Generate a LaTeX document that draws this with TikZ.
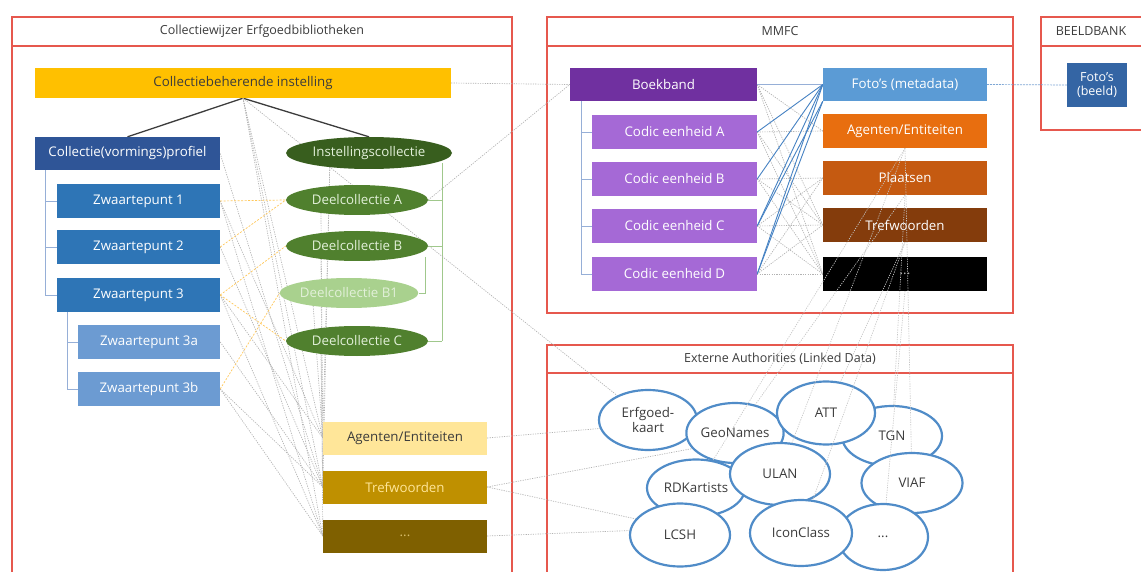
\documentclass[tikz,border=0pt]{standalone}
\usepackage{fontspec}
\setmainfont{Open Sans}
\usetikzlibrary{shapes.geometric}
\definecolor{panelred}{RGB}{230,88,78}
\definecolor{titlegray}{RGB}{60,60,60}
\definecolor{amber}{RGB}{255,192,0}
\definecolor{profblue}{RGB}{47,85,151}
\definecolor{zpblue}{RGB}{46,117,182}
\definecolor{zplight}{RGB}{108,155,210}
\definecolor{instgreen}{RGB}{56,94,30}
\definecolor{deelgreen}{RGB}{80,128,46}
\definecolor{lightgreen}{RGB}{169,209,142}
\definecolor{greentext}{RGB}{226,240,217}
\definecolor{agyel}{RGB}{255,230,153}
\definecolor{trgold}{RGB}{191,144,0}
\definecolor{dotbrown}{RGB}{127,96,0}
\definecolor{boekpurple}{RGB}{112,48,160}
\definecolor{codicpurple}{RGB}{165,105,214}
\definecolor{fotoblue}{RGB}{91,155,213}
\definecolor{agorange}{RGB}{232,110,15}
\definecolor{plorange}{RGB}{197,90,17}
\definecolor{trbrown}{RGB}{132,60,12}
\definecolor{beeldblue}{RGB}{52,101,164}
\definecolor{authblue}{RGB}{80,140,200}
\definecolor{treeb}{RGB}{150,175,215}
\definecolor{treeg}{RGB}{160,200,140}
\definecolor{yline}{RGB}{255,200,90}
\definecolor{bline}{RGB}{70,130,195}
\newcommand\nodefont{\fontsize{13.3}{15}\selectfont}
\newcommand\titlefont{\fontsize{12.5}{14}\selectfont}
\pgfdeclarelayer{panels}
\pgfdeclarelayer{lines}
\pgfsetlayers{panels,lines,main}
\begin{document}
\begin{tikzpicture}[x=1pt,y=-1pt,
  box/.style={rectangle, inner sep=0pt, font=\nodefont, text=white},
  greenell/.style={ellipse, inner sep=0pt, font=\nodefont, text=greentext, minimum height=30pt},
  auth/.style={ellipse, draw=authblue, line width=2.2pt, fill=white, inner sep=0pt, font=\nodefont, text=titlegray, align=center},
  gline/.style={draw=gray!60, line width=0.65pt, dash pattern=on 1.2pt off 1.2pt},
  glight/.style={draw=gray!45, line width=0.65pt, dash pattern=on 1.2pt off 1.2pt},
  yl/.style={draw=yline, line width=0.7pt, dash pattern=on 2pt off 1.5pt},
  bl/.style={draw=bline, line width=0.9pt},
  treeblue/.style={draw=treeb, line width=0.9pt},
  treegreen/.style={draw=treeg, line width=0.9pt},
  panel/.style={draw=panelred, line width=1.6pt, fill=white},
  ptitle/.style={font=\titlefont, text=titlegray, inner sep=0pt}
]
\useasboundingbox (0,0) rectangle (1141,572);

% ---------- panels ----------
\begin{pgfonlayer}{panels}
\fill[white] (0,0) rectangle (1141,572);
\draw[panel] (12,17) rectangle (512,590);
\draw[panelred, line width=1.6pt] (12,46) -- (512,46);
\draw[panel] (547,17) rectangle (1013,313);
\draw[panelred, line width=1.6pt] (547,46) -- (1013,46);
\draw[panel] (1041,17) rectangle (1160,130);
\draw[panelred, line width=1.6pt] (1041,46) -- (1160,46);
\draw[panel] (547,345) rectangle (1013,590);
\draw[panelred, line width=1.6pt] (547,373) -- (1013,373);
\end{pgfonlayer}

\node[ptitle] (t1) at (262,31) {Collectiewijzer Erfgoedbibliotheken};
\node[ptitle] (t2) at (780,31) {MMFC};
\node[ptitle] (t3) at (1091,31) {BEELDBANK};
\node[ptitle] (t4) at (780,359) {Externe Authorities (Linked Data)};

% ---------- left panel nodes ----------
\node[box, fill=amber, text=titlegray, minimum width=416pt, minimum height=30pt] (coll) at (243,83) {Collectiebeherende instelling};
\node[box, fill=profblue, minimum width=185pt, minimum height=33pt] (profiel) at (127.5,153.5) {Collectie(vormings)profiel};
\node[box, fill=zpblue, minimum width=163pt, minimum height=34pt] (zp1) at (138.5,201) {Zwaartepunt 1};
\node[box, fill=zpblue, minimum width=163pt, minimum height=34pt] (zp2) at (138.5,247) {Zwaartepunt 2};
\node[box, fill=zpblue, minimum width=163pt, minimum height=34pt] (zp3) at (138.5,295) {Zwaartepunt 3};
\node[box, fill=zplight, minimum width=142pt, minimum height=34pt] (zp3a) at (149,342) {Zwaartepunt 3a};
\node[box, fill=zplight, minimum width=142pt, minimum height=34pt] (zp3b) at (149,389) {Zwaartepunt 3b};

\node[greenell, fill=instgreen, minimum width=166pt, minimum height=32pt] (inst) at (369,153) {Instellingscollectie};
\node[greenell, fill=deelgreen, minimum width=142pt] (dA) at (357,200) {Deelcollectie A};
\node[greenell, fill=deelgreen, minimum width=142pt] (dB) at (357,246) {Deelcollectie B};
\node[greenell, fill=lightgreen, minimum width=128pt] (dB1) at (349,293) {Deelcollectie B1};
\node[greenell, fill=deelgreen, minimum width=142pt] (dC) at (357,341) {Deelcollectie C};

\node[box, fill=agyel, text=titlegray, minimum width=164pt, minimum height=33pt] (ag) at (405,438) {Agenten/Entiteiten};
\node[box, fill=trgold, text=agyel, minimum width=164pt, minimum height=33pt] (tr) at (405,487) {Trefwoorden};
\node[box, fill=dotbrown, text=agyel!70!dotbrown, minimum width=164pt, minimum height=33pt] (dots) at (405,536) {...};

% ---------- MMFC nodes ----------
\node[box, fill=boekpurple, minimum width=187pt, minimum height=33pt] (boek) at (663.5,84.5) {Boekband};
\node[box, fill=codicpurple, minimum width=165pt, minimum height=34pt] (cA) at (674.5,132) {Codic eenheid A};
\node[box, fill=codicpurple, minimum width=165pt, minimum height=34pt] (cB) at (674.5,179) {Codic eenheid B};
\node[box, fill=codicpurple, minimum width=165pt, minimum height=34pt] (cC) at (674.5,226) {Codic eenheid C};
\node[box, fill=codicpurple, minimum width=165pt, minimum height=34pt] (cD) at (674.5,274) {Codic eenheid D};

\node[box, fill=fotoblue, minimum width=164pt, minimum height=33pt] (foto) at (905,84.5) {Foto's (metadata)};
\node[box, fill=agorange, minimum width=164pt, minimum height=34pt] (agM) at (905,131) {Agenten/Entiteiten};
\node[box, fill=plorange, minimum width=164pt, minimum height=34pt] (plM) at (905,178) {Plaatsen};
\node[box, fill=trbrown, minimum width=164pt, minimum height=34pt] (trM) at (905,225) {Trefwoorden};
\node[box, fill=black, text=gray!60, minimum width=164pt, minimum height=34pt] (dotM) at (905,274) {...};

% ---------- Beeldbank ----------
\node[box, fill=beeldblue, minimum width=60pt, minimum height=44pt, align=center, font=\fontsize{12.5}{14}\selectfont] (bfoto) at (1097,85) {Foto's\\(beeld)};

% ---------- authorities ----------
\node[auth, minimum width=98pt, minimum height=60pt] (erf) at (648,420) {Erfgoed-\\kaart};
\node[auth, minimum width=96pt, minimum height=60pt] (geo) at (735,433) {GeoNames};
\node[auth, minimum width=100pt, minimum height=60pt] (tgn) at (892,436) {TGN};
\node[auth, minimum width=98pt, minimum height=63pt] (att) at (826,413) {ATT};
\node[auth, minimum width=98pt, minimum height=57pt] (rdk) at (696,488) {RDKartists};
\node[auth, minimum width=100pt, minimum height=62pt] (ulan) at (780,474) {ULAN};
\node[auth, minimum width=101pt, minimum height=60pt] (viaf) at (912,483) {VIAF};
\node[auth, minimum width=90pt, minimum height=66pt] (moreE) at (883,537) {...};
\node[auth, minimum width=100pt, minimum height=63pt] (lcsh) at (680,535) {LCSH};
\node[auth, minimum width=102pt, minimum height=66pt] (icon) at (801,533) {IconClass};

% MMFC to authorities (drawn over the boxes, as in the reference)
\foreach \a/\b in {agM/ulan, agM/rdk, agM/viaf, plM/geo, plM/tgn, trM/att, trM/icon, dotM/moreE}
  \draw[glight] (\a.south) -- (\b);

% ---------- connectors ----------
\begin{pgfonlayer}{lines}
% hierarchy trees
\draw[treeblue] (45,170) -- (45,295) (45,201) -- (zp1.west) (45,247) -- (zp2.west) (45,295) -- (zp3.west);
\draw[treeblue] (67,312) -- (67,389) (67,342) -- (zp3a.west) (67,389) -- (zp3b.west);
\draw[treegreen] (442,163) -- (442,341) (442,200) -- (dA.east) (442,246) -- (dB.east) (442,341) -- (dC.east);
\draw[treegreen] (425,257) -- (425,293) -- (dB1.east);
\draw[treeblue] (581,101) -- (581,274) (581,132) -- (cA.west) (581,179) -- (cB.west) (581,226) -- (cC.west) (581,274) -- (cD.west);
% black lines
\draw[draw=titlegray, line width=1.3pt] (profiel.north) -- (coll.south) -- (inst.north);
% gray dotted, left panel
\foreach \a/\b in {coll.south/ag.west, coll.south/tr.west, coll.south/dots.west,
  profiel.east/tr.west, zp1.east/ag.west, zp1.east/dots.west, zp2.east/tr.west,
  zp3.east/ag.west, zp3.east/dots.west, zp3a.east/tr.west, zp3b.east/dots.west,
  zp3b.east/tr.west, inst.200/ag.west, inst.200/tr.west, dA.200/ag.west,
  dB.200/dots.west, dC.200/tr.west, dB1.200/ag.west}
  \draw[gline] (\a) -- (\b);
\draw[gline] (coll.east) -- (boek.west);
\draw[gline] (dA.east) -- (boek.west);
\draw[gline] (coll.south) -- (erf);
\draw[gline] (ag.east) -- (erf.190);
\draw[gline] (tr.east) -- (geo.200);
\draw[gline] (tr.east) -- (lcsh.160);
\draw[gline] (dots.east) -- (lcsh.175);
% yellow dashed
\draw[yl] (zp1.east) -- (dA.west);
\draw[yl] (zp2.east) -- (dA.west);
\draw[yl] (zp3.east) -- (dB.west);
\draw[yl] (zp3.east) -- (dC.west);
\draw[yl] (zp3b.east) -- (dB1.west);
% MMFC gray dotted
\foreach \a/\b in {boek/agM, boek/trM, boek/dotM, cA/agM, cA/trM, cA/dotM,
  cB/plM, cB/trM, cB/dotM, cC/plM, cC/trM, cC/dotM, cD/plM, cD/trM, cD/dotM}
  \draw[gline] (\a.east) -- (\b.west);
% blue solid
\draw[draw=treeb, line width=0.8pt] (boek.east) -- (foto.west);
\foreach \b in {cA, cB, cC, cD}
  \draw[bl] (foto.west) -- (\b.east);
\draw[bl] (foto.south west) -- (cC.east);
\draw[bl] (foto.south west) -- (cD.east);
\draw[draw=bline!70, line width=0.7pt, dash pattern=on 2pt off 1pt] (foto.east) -- (bfoto.west);
\end{pgfonlayer}
\end{tikzpicture}
\end{document}
